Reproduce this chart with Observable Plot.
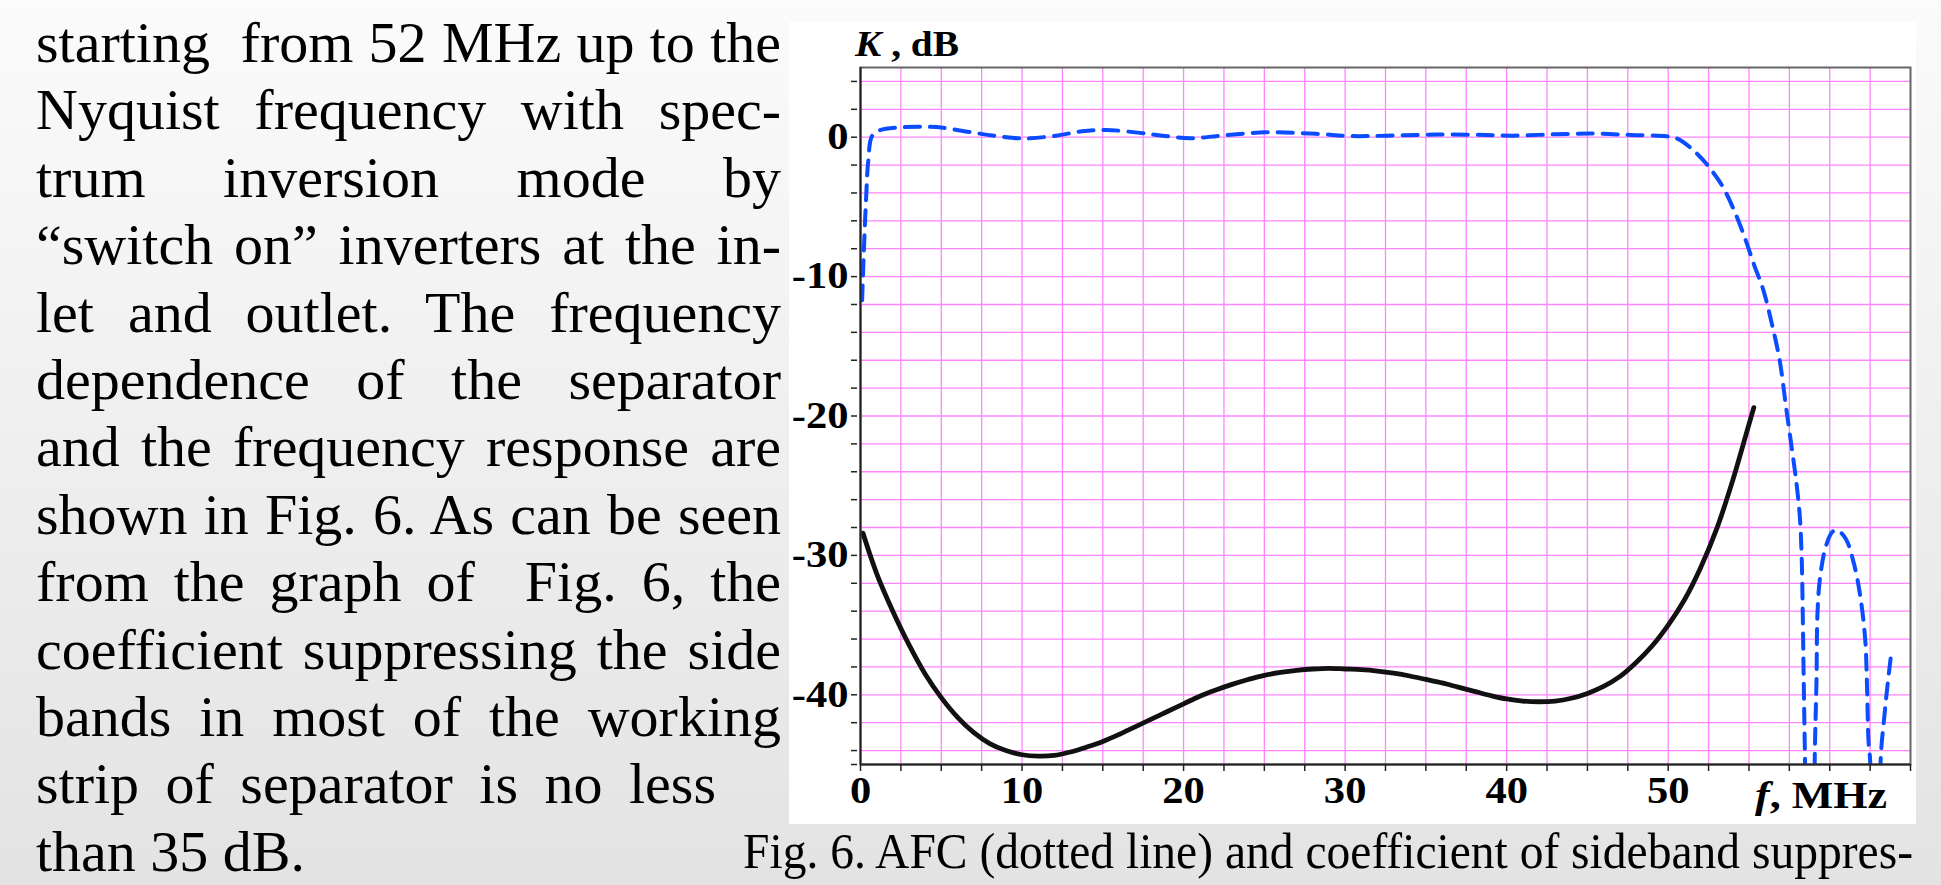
<!DOCTYPE html>
<html><head><meta charset="utf-8">
<script src="https://cdn.jsdelivr.net/npm/d3@7"></script>
<script src="https://cdn.jsdelivr.net/npm/@observablehq/plot@0.6"></script>
<style>
html,body{margin:0;padding:0;}
body{width:1941px;height:885px;position:relative;overflow:hidden;background:linear-gradient(#fbfbfb,#e3e3e3);font-family:"Liberation Serif","Times New Roman",serif;color:#000;}
#page{position:absolute;left:0;top:0;}
#chartbox{position:absolute;left:789px;top:22px;width:1127px;height:802px;background:#fff;}
#chartbox svg{display:block;}
</style>
</head><body>
<svg id="page" width="1941" height="885"></svg>
<div id="chartbox"></div>
<script>
// ---- data ----
const afcFreq = [0.1,0.2,0.35,0.48,0.72,1.2,2.7,4.0,5.1,6.8,8.3,9.8,10.5,12.1,13.7,15.2,17.3,18.7,20.4,22.3,25.1,28.2,30.4,32.6,35.7,38.7,40.4,43.0,45.4,47.7,49.9,50.6,51.8,52.7,53.4,54.1,54.8,55.3,55.9,56.4,56.9,57.3,57.65,57.96,58.16,58.27,58.33,58.39,58.47,58.7,58.95,59.07,59.18,59.24,59.4,59.75,60.17,60.48,60.99,61.5,61.9,62.2,62.3,62.4,62.5,62.75,63.0,63.16,63.36,63.57,63.84];
const afcGain = [-11.7,-8.4,-4.3,-1.7,0.1,0.5,0.72,0.75,0.68,0.36,0.1,-0.08,-0.08,0.11,0.42,0.52,0.31,0.11,-0.08,0.11,0.35,0.24,0.08,0.11,0.19,0.16,0.11,0.21,0.26,0.16,0.07,-0.12,-1.2,-2.4,-3.6,-5.3,-7.4,-9.1,-11.0,-13.3,-16.0,-19.4,-22.3,-25.0,-27.4,-30.4,-34.2,-39.0,-44.7,-60,-60,-44.7,-39.0,-34.2,-31.6,-29.4,-28.3,-28.2,-28.8,-30.6,-33.0,-36.1,-39.0,-43.3,-44.7,-60,-60,-44.5,-41.8,-39.4,-36.7];
const supFreq = [0.15,1,2,3,4,5,6,7,8,9,10,11,12,13,14,15,16,17,18,19,20,21,22,23,24,25,26,27,28,29,30,31,32,33,34,35,36,37,38,39,40,41,42,43,44,45,46,47,48,49,50,51,52,53,54,55,55.3];
const supGain = [-28.4,-31.3,-34.0,-36.4,-38.5,-40.2,-41.6,-42.7,-43.5,-44.0,-44.3,-44.4,-44.35,-44.1,-43.75,-43.35,-42.85,-42.3,-41.75,-41.2,-40.65,-40.1,-39.65,-39.25,-38.9,-38.6,-38.4,-38.25,-38.15,-38.1,-38.15,-38.2,-38.3,-38.45,-38.65,-38.9,-39.15,-39.45,-39.75,-40.05,-40.3,-40.45,-40.5,-40.45,-40.25,-39.9,-39.4,-38.7,-37.7,-36.5,-35.0,-33.2,-30.9,-28.1,-24.6,-20.6,-19.4];
const xTickLabels = [0,10,20,30,40,50];
const yTickLabels = [0,-10,-20,-30,-40];
const xMinorTicks = d3.range(0, 65.001, 2.5);
const yMinorTicks = [-45].concat(d3.range(-44, 5, 2));
const xGridLines = d3.range(2.5, 65, 2.5);
const yGridLines = d3.range(-44, 5, 2);
const yTitle = ["K", " , dB"];
const xTitle = ["f", ", MHz"];
const bodyLines = [
  "starting  from 52 MHz up to the",
  "Nyquist frequency with spec-",
  "trum inversion mode by",
  "\u201Cswitch on\u201D inverters at the in-",
  "let and outlet. The frequency",
  "dependence of the separator",
  "and the frequency response are",
  "shown in Fig. 6. As can be seen",
  "from the graph of  Fig. 6, the",
  "coefficient suppressing the side",
  "bands in most of the working",
  "strip of separator is no less",
  "than 35 dB."
];
const captionText = "Fig. 6. AFC (dotted line) and coefficient of sideband suppres-";

const afc = afcFreq.map((f, i) => ({f, k: afcGain[i]}));
const sup = supFreq.map((f, i) => ({f, k: supGain[i]}));

// ---- page text ----
const page = d3.select("#page");
function addLine(str, x, y, size, target) {
  const t = page.append("text").attr("x", x).attr("y", y)
    .attr("font-family", "'Liberation Serif', 'Times New Roman', serif")
    .attr("font-size", size).attr("fill", "#000")
    .attr("xml:space", "preserve").text(str);
  if (target) {
    const nat = t.node().getComputedTextLength();
    const spaces = (str.match(/ /g) || []).length;
    if (nat < target && spaces > 0) t.attr("word-spacing", (target - nat) / spaces);
    else if (nat > target) t.attr("textLength", target).attr("lengthAdjust", "spacingAndGlyphs");
  }
}
const targets = [745,745,745,745,745,745,745,745,745,745,745,680,null];
bodyLines.forEach((s, i) => addLine(s, 36, 62 + i * 67.4, 58, targets[i]));
addLine(captionText, 743, 868, 50, 1170);

// ---- chart ----
const grid = "#ff85ff";
const blue = "#0a4cff";
const chart = Plot.plot({
  width: 1127, height: 802,
  marginLeft: 71, marginRight: 6, marginTop: 45, marginBottom: 60,
  x: {domain: [0, 65], axis: null, label: null},
  y: {domain: [-45, 5], axis: null, label: null},
  style: {background: "transparent", fontFamily: "'Liberation Serif', 'Times New Roman', serif", overflow: "visible", color: "#000"},
  marks: [
    Plot.ruleX(xGridLines, {stroke: grid, strokeWidth: 1.3}),
    Plot.ruleY(yGridLines, {stroke: grid, strokeWidth: 1.3}),
    Plot.line(afc, {x: "f", y: "k", stroke: blue, strokeWidth: 4, strokeDasharray: "15,10", curve: "catmull-rom", clip: true}),
    Plot.line(sup, {x: "f", y: "k", stroke: "#111", strokeWidth: 4.8, curve: "catmull-rom", clip: true}),
    Plot.frame({stroke: "#666", strokeWidth: 2}),
    Plot.ruleX([0], {stroke: "#222", strokeWidth: 2}),
    Plot.ruleY([-45], {stroke: "#222", strokeWidth: 2}),
    Plot.axisY(yMinorTicks, {anchor: "left", label: null, tickSize: 6, tickFormat: () => "", dx: -3, stroke: "#222", strokeWidth: 1.5}),
    Plot.axisY(yTickLabels, {anchor: "left", label: null, tickSize: 0, tickPadding: 12, tickFormat: d => String(d), fontSize: 37, fontWeight: "bold", fill: "#000"}),
    Plot.axisX(xMinorTicks, {anchor: "bottom", label: null, tickSize: 7, tickFormat: () => "", stroke: "#222", strokeWidth: 1.5}),
    Plot.axisX(xTickLabels, {anchor: "bottom", label: null, tickSize: 0, tickPadding: 12, tickFormat: d => String(d), fontSize: 37, fontWeight: "bold", fill: "#000"})
  ]
});
document.getElementById("chartbox").appendChild(chart);
const svg = d3.select(chart);
// widen tick labels like the reference's stretched figure
svg.selectAll("g[aria-label$='tick label'] text").each(function() {
  const n = this; const s = n.textContent;
  if (!s) return;
  const L = n.getComputedTextLength();
  d3.select(n).attr("textLength", L * 1.15).attr("lengthAdjust", "spacingAndGlyphs");
});
function title(parts, x, y, size, len) {
  const t = svg.append("text").attr("x", x).attr("y", y)
    .attr("text-anchor", "start")
    .attr("font-family", "'Liberation Serif', 'Times New Roman', serif")
    .attr("font-size", size).attr("font-weight", "bold").attr("fill", "#000")
    .attr("xml:space", "preserve");
  t.append("tspan").attr("font-style", "italic").text(parts[0]);
  t.append("tspan").text(parts[1]);
  t.attr("textLength", len).attr("lengthAdjust", "spacingAndGlyphs");
}
title(yTitle, 66, 34, 35, 104);
title(xTitle, 966, 786, 38, 132);
</script>
</body></html>
